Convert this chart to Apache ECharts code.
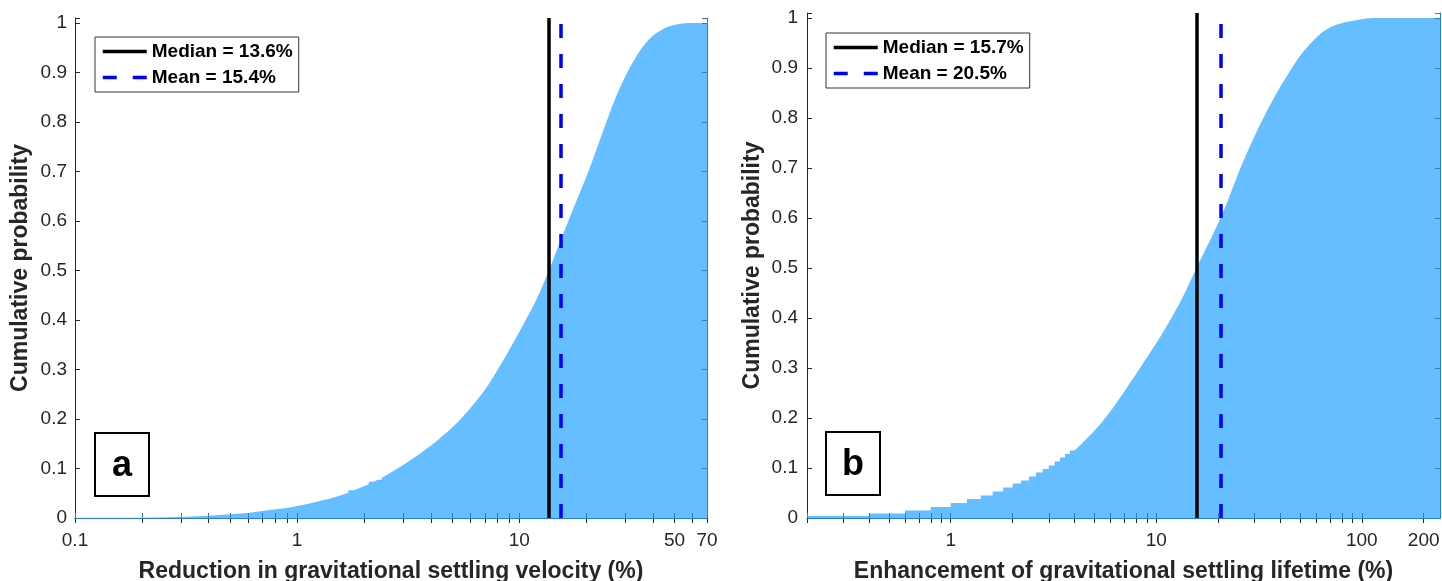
<!DOCTYPE html>
<html>
<head>
<meta charset="utf-8">
<script src="https://cdn.jsdelivr.net/npm/echarts@6/dist/echarts.min.js"></script>
<style>
  html, body { margin: 0; padding: 0; background: #fff; }
  #chart { width: 1442px; height: 581px; }
</style>
</head>
<body>
<div id="chart"></div>
<script>
// ---- panel a : reduction in settling velocity (histogram bins 0.1 %) ----
const binLeftA = [0.1, 0.2, 0.3, 0.4, 0.5, 0.6, 0.7, 0.8, 0.9, 1.0, 1.1, 1.2,
                  1.3, 1.4, 1.5, 1.6, 1.7, 1.8, 1.9, 2.0, 2.1, 2.2, 2.3];
const binCdfA = [0.0005, 0.002, 0.0046, 0.0075, 0.010, 0.014, 0.0175, 0.020, 0.024, 0.028, 0.032, 0.036,
                 0.039, 0.043, 0.047, 0.051, 0.056, 0.060, 0.064, 0.068, 0.073, 0.077, 0.081];
// above ~2.4 % the bins are too narrow to see, read as a curve
const curveXA = [2.4, 3.0, 4.1, 5.4, 7.0, 9.0, 11.9, 13.6, 15.4, 17.4, 20.6, 24.3, 27.1, 30.8, 34.8, 39.9, 45.9, 51, 58, 70];
const curveYA = [0.081, 0.107, 0.150, 0.198, 0.259, 0.339, 0.440, 0.500, 0.562, 0.622, 0.703, 0.792, 0.848, 0.902, 0.943, 0.974, 0.991, 0.997, 1.0, 1.0];
const medianA = 13.6;
const meanA = 15.4;
const xTicksA = [0.1, 0.2, 0.3, 0.4, 0.5, 0.6, 0.7, 0.8, 0.9, 1, 2, 3, 4, 5, 6, 7, 8, 9, 10, 20, 30, 40, 50, 60, 70];
const xLabelsA = [0.1, 1, 10, 50, 70];

// ---- panel b : enhancement of settling lifetime (histogram bins 0.2 %) ----
const binLeftB = [0.2, 0.4, 0.6, 0.8, 1.0, 1.2, 1.4, 1.6, 1.8, 2.0, 2.2, 2.4, 2.6, 2.8, 3.0, 3.2, 3.4, 3.6, 3.8];
const binCdfB = [0.004, 0.009, 0.015, 0.022, 0.030, 0.038, 0.045, 0.053, 0.061, 0.069, 0.075, 0.083,
                 0.091, 0.098, 0.105, 0.113, 0.121, 0.128, 0.135];
const curveXB = [4.0, 4.5, 5.4, 6.4, 8.4, 10.7, 13.2, 15.7, 19.1, 21.8, 25.8, 30.5, 36.8, 46.0, 52.5, 63.2, 73.3, 91.8, 114, 240];
const curveYB = [0.135, 0.155, 0.190, 0.230, 0.302, 0.369, 0.435, 0.500, 0.572, 0.625, 0.702, 0.769, 0.835, 0.902, 0.935, 0.969, 0.985, 0.995, 1.0, 1.0];
const medianB = 15.7;
const meanB = 20.5;
const xTicksB = [0.2, 0.3, 0.4, 0.5, 0.6, 0.7, 0.8, 0.9, 1, 2, 3, 4, 5, 6, 7, 8, 9, 10, 20, 30, 40, 50, 60, 70, 80, 90, 100, 200];
const xLabelsB = [1, 10, 100, 200];

const font = "'Liberation Sans', Arial, Helvetica, sans-serif";
const axisColor = '#262626';
const underFill = '#2a7fc4';   // axis lines seen through the bars
const fillColor = '#64beff';
const meanDash = [14, 16];

const chart = echarts.init(document.getElementById('chart'));

// stair part; the last bin is carried on under the curve fill so no seam shows
function stepData(left, cdf, curveX) {
  const d = left.map((x, i) => [x, cdf[i]]);
  d.push([curveX[1], cdf[cdf.length - 1]]);
  return d;
}

function xAxisBottom(gridIndex, min, max, ticks, labels, name) {
  return {
    type: 'log', gridIndex: gridIndex, min: min, max: max, position: 'bottom', z: 5,
    name: name, nameLocation: 'middle', nameGap: 42,
    nameTextStyle: { fontSize: 23, fontWeight: 'bold', color: axisColor, fontFamily: font },
    axisLine: { show: true, lineStyle: { color: underFill, width: 1 } },
    axisTick: { show: true, inside: true, length: 5, customValues: ticks, lineStyle: { color: underFill } },
    axisLabel: { customValues: labels, formatter: v => String(v), fontSize: 19, color: axisColor, margin: 13, fontFamily: font },
    splitLine: { show: false }
  };
}

function xAxisTop(gridIndex, min, max, ticks) {
  return {
    type: 'log', gridIndex: gridIndex, min: min, max: max, position: 'top',
    axisLine: { show: true, lineStyle: { color: axisColor, width: 1 } },
    axisTick: { show: true, inside: true, length: 5, customValues: ticks, lineStyle: { color: axisColor } },
    axisLabel: { show: false },
    splitLine: { show: false }
  };
}

function yAxisLeft(gridIndex, margin) {
  return {
    type: 'value', gridIndex: gridIndex, min: 0, max: 1.01, interval: 0.1, position: 'left',
    name: 'Cumulative probability', nameLocation: 'middle', nameGap: 43, nameRotate: 90,
    nameTextStyle: { fontSize: 23, fontWeight: 'bold', color: axisColor, fontFamily: font },
    axisLine: { show: true, lineStyle: { color: axisColor, width: 1 } },
    axisTick: { show: true, inside: true, length: 5, lineStyle: { color: axisColor } },
    axisLabel: {
      fontSize: 19, color: axisColor, margin: margin, fontFamily: font,
      formatter: v => (v > 1.001 ? '' : String(+v.toFixed(1)))
    },
    splitLine: { show: false }
  };
}

function yAxisRight(gridIndex) {
  return {
    type: 'value', gridIndex: gridIndex, min: 0, max: 1.01, interval: 0.1, position: 'right', z: 5,
    axisLine: { show: true, lineStyle: { color: underFill, width: 1 } },
    axisTick: { show: true, inside: true, length: 5, lineStyle: { color: underFill } },
    axisLabel: { show: false },
    splitLine: { show: false }
  };
}

function areaSeries(xi, yi, data, smooth) {
  return {
    type: 'line', xAxisIndex: xi, yAxisIndex: yi, data: data,
    step: smooth ? false : 'end', smooth: smooth ? 0.3 : false,
    symbol: 'none', silent: true,
    lineStyle: { width: 0, opacity: 0 },
    areaStyle: { color: fillColor, opacity: 1 }
  };
}

function statSeries(xi, yi, name, value, color, dashed) {
  const ls = { color: color, width: 3.5, type: dashed ? meanDash : 'solid' };
  return {
    type: 'line', name: name, xAxisIndex: xi, yAxisIndex: yi, data: [],
    symbol: 'none', lineStyle: ls, itemStyle: { color: color }, z: 6,
    markLine: {
      silent: true, symbol: ['none', 'none'], label: { show: false },
      lineStyle: ls, data: [{ xAxis: value }]
    }
  };
}

function legendBox(left, top, medianName, meanName) {
  return {
    orient: 'vertical', left: left, top: top, padding: [5, 6, 5, 6],
    itemWidth: 44, itemHeight: 20, itemGap: 7,
    borderColor: '#333', borderWidth: 1, backgroundColor: '#fff',
    selectedMode: false,
    itemStyle: { opacity: 0 },
    textStyle: { fontSize: 19, fontWeight: 'bold', color: '#000', fontFamily: font },
    data: [
      { name: medianName, lineStyle: { color: '#000', width: 3.5, type: 'solid' } },
      { name: meanName, lineStyle: { color: '#0000ff', width: 3.5, type: meanDash } }
    ]
  };
}

function panelTag(x, y, txt) {
  return {
    type: 'group', left: x, top: y,
    children: [
      { type: 'rect', shape: { x: 0, y: 0, width: 54, height: 63 },
        style: { fill: '#fff', stroke: '#000', lineWidth: 2 } },
      { type: 'text', x: 27, y: 33,
        style: { text: txt, fill: '#000', font: 'bold 36px ' + font, align: 'center', verticalAlign: 'middle' } }
    ]
  };
}

const nameMedA = 'Median = ' + medianA + '%';
const nameMeanA = 'Mean = ' + meanA + '%';
const nameMedB = 'Median = ' + medianB + '%';
const nameMeanB = 'Mean = ' + meanB + '%';

const option = {
  animation: false,
  backgroundColor: '#fff',
  textStyle: { fontFamily: font },
  grid: [
    { left: 75, top: 18, width: 632, height: 500, containLabel: false, outerBoundsMode: 'none' },
    { left: 807, top: 13, width: 633, height: 505, containLabel: false, outerBoundsMode: 'none' }
  ],
  xAxis: [
    xAxisBottom(0, 0.1, 70, xTicksA, xLabelsA, 'Reduction in gravitational settling velocity (%)'),
    xAxisTop(0, 0.1, 70, xTicksA),
    xAxisBottom(1, 0.2, 240, xTicksB, xLabelsB, 'Enhancement of gravitational settling lifetime (%)'),
    xAxisTop(1, 0.2, 240, xTicksB)
  ],
  yAxis: [yAxisLeft(0, 8), yAxisRight(0), yAxisLeft(1, 9), yAxisRight(1)],
  legend: [
    legendBox(95, 37, nameMedA, nameMeanA),
    legendBox(826, 33, nameMedB, nameMeanB)
  ],
  series: [
    areaSeries(0, 0, stepData(binLeftA, binCdfA, curveXA), false),
    areaSeries(0, 0, curveXA.map((x, i) => [x, curveYA[i]]), true),
    statSeries(0, 0, nameMedA, medianA, '#000', false),
    statSeries(0, 0, nameMeanA, meanA, '#0000ff', true),
    areaSeries(2, 2, stepData(binLeftB, binCdfB, curveXB), false),
    areaSeries(2, 2, curveXB.map((x, i) => [x, curveYB[i]]), true),
    statSeries(2, 2, nameMedB, medianB, '#000', false),
    statSeries(2, 2, nameMeanB, meanB, '#0000ff', true)
  ],
  graphic: [panelTag(94, 432, 'a'), panelTag(825, 431, 'b')]
};

chart.setOption(option);
window.addEventListener('resize', () => chart.resize());
</script>
</body>
</html>
